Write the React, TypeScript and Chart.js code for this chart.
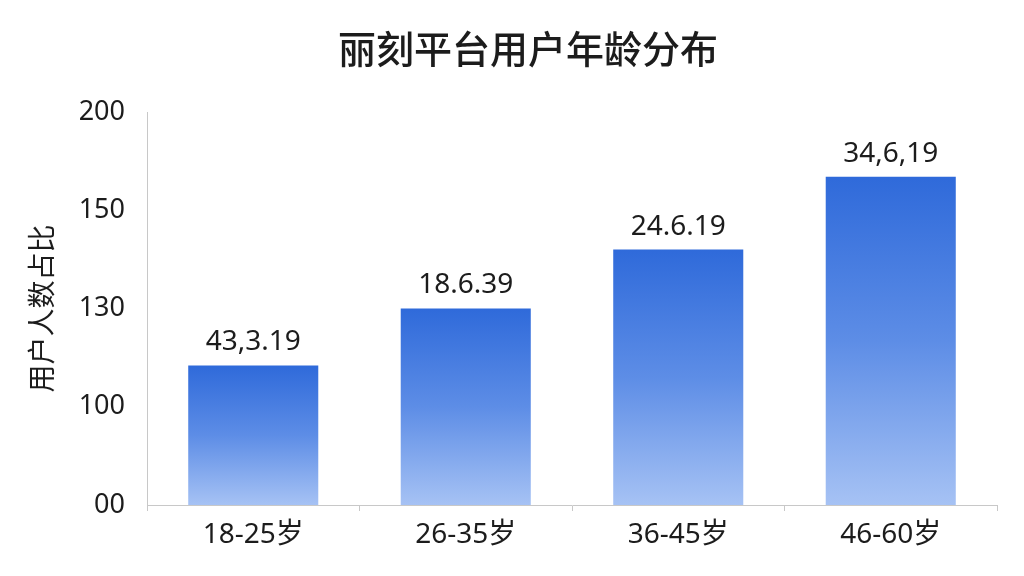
import { useEffect, useRef } from 'react'
import { Chart, registerables } from 'chart.js'

Chart.register(...registerables)

const title = '丽刻平台用户年龄分布'
const yTitle = '用户人数占比'
const categories = ['18-25岁', '26-35岁', '36-45岁', '46-60岁']
const values = [71, 100, 130, 167]
const valueLabels = ['43,3.19', '18.6.39', '24.6.19', '34,6,19']
const yTickLabels = ['00', '100', '130', '150', '200']

const FONT = '"Noto Sans", "Noto Sans CJK SC", sans-serif'
const TEXT = '#1c1c1c'

// title + value labels drawn by hand so they sit where the reference has them
const overlayPlugin = {
  id: 'overlay',
  afterDatasetsDraw(chart: Chart) {
    const { ctx } = chart
    const meta = chart.getDatasetMeta(0)
    ctx.save()
    ctx.fillStyle = TEXT
    ctx.textAlign = 'center'
    ctx.textBaseline = 'middle'
    ctx.font = `28px ${FONT}`
    meta.data.forEach((bar: any, i: number) => {
      ctx.fillText(valueLabels[i], bar.x, bar.y - 23)
    })
    ctx.font = `500 38px ${FONT}`
    ctx.fillText(title, 528, 52)
    ctx.restore()
  },
}

export default function App() {
  const chartRef = useRef<HTMLCanvasElement>(null)
  const chartInstance = useRef<Chart | null>(null)

  useEffect(() => {
    document.body.style.margin = '0'
    if (!chartRef.current) return
    if (chartInstance.current) {
      chartInstance.current.destroy()
    }
    const ctx = chartRef.current.getContext('2d')
    if (!ctx) return

    chartInstance.current = new Chart(ctx, {
      type: 'bar',
      data: {
        labels: categories,
        datasets: [
          {
            data: values,
            backgroundColor: (context: any) => {
              const chart = context.chart
              const yScale = chart.scales?.y
              if (!chart.chartArea || !yScale) return '#4a7ee0'
              const v = context.raw as number
              const top = yScale.getPixelForValue(v)
              const base = yScale.getPixelForValue(0)
              const g = chart.ctx.createLinearGradient(0, top, 0, base)
              g.addColorStop(0, '#2f6ada')
              g.addColorStop(0.5, '#5d8de6')
              g.addColorStop(1, '#a6c2f4')
              return g
            },
            borderWidth: 0,
            categoryPercentage: 1,
            barPercentage: 0.612,
          },
        ],
      },
      options: {
        responsive: false,
        animation: false,
        layout: {
          padding: { top: 112, right: 27, left: 0, bottom: 0 },
        },
        plugins: {
          legend: { display: false },
          tooltip: { enabled: false },
        },
        scales: {
          x: {
            grid: {
              display: true,
              drawOnChartArea: false,
              drawTicks: true,
              tickLength: 6,
              color: '#c8c8c8',
            },
            border: { display: true, color: '#c8c8c8', width: 1 },
            ticks: {
              color: TEXT,
              font: { family: FONT, size: 28 },
              padding: 7,
            },
            afterFit: (scale: any) => {
              scale.height = 71
            },
          },
          y: {
            min: 0,
            max: 200,
            grid: { display: false, drawOnChartArea: false, drawTicks: false },
            border: { display: true, color: '#c8c8c8', width: 1 },
            ticks: {
              stepSize: 50,
              color: TEXT,
              font: { family: FONT, size: 27 },
              padding: 22,
              callback: (_v: any, i: number) => yTickLabels[i],
            },
            title: {
              display: true,
              text: yTitle,
              color: TEXT,
              font: { family: FONT, size: 28 },
              padding: { top: 27, bottom: 0 },
            },
            afterFit: (scale: any) => {
              scale.width = 147
            },
          },
        },
      },
      plugins: [overlayPlugin],
    })

    return () => {
      if (chartInstance.current) {
        chartInstance.current.destroy()
        chartInstance.current = null
      }
    }
  }, [])

  return (
    <div style={{ width: 1024, height: 576, background: '#fff' }}>
      <canvas ref={chartRef} width={1024} height={576} style={{ display: 'block' }} />
    </div>
  )
}
